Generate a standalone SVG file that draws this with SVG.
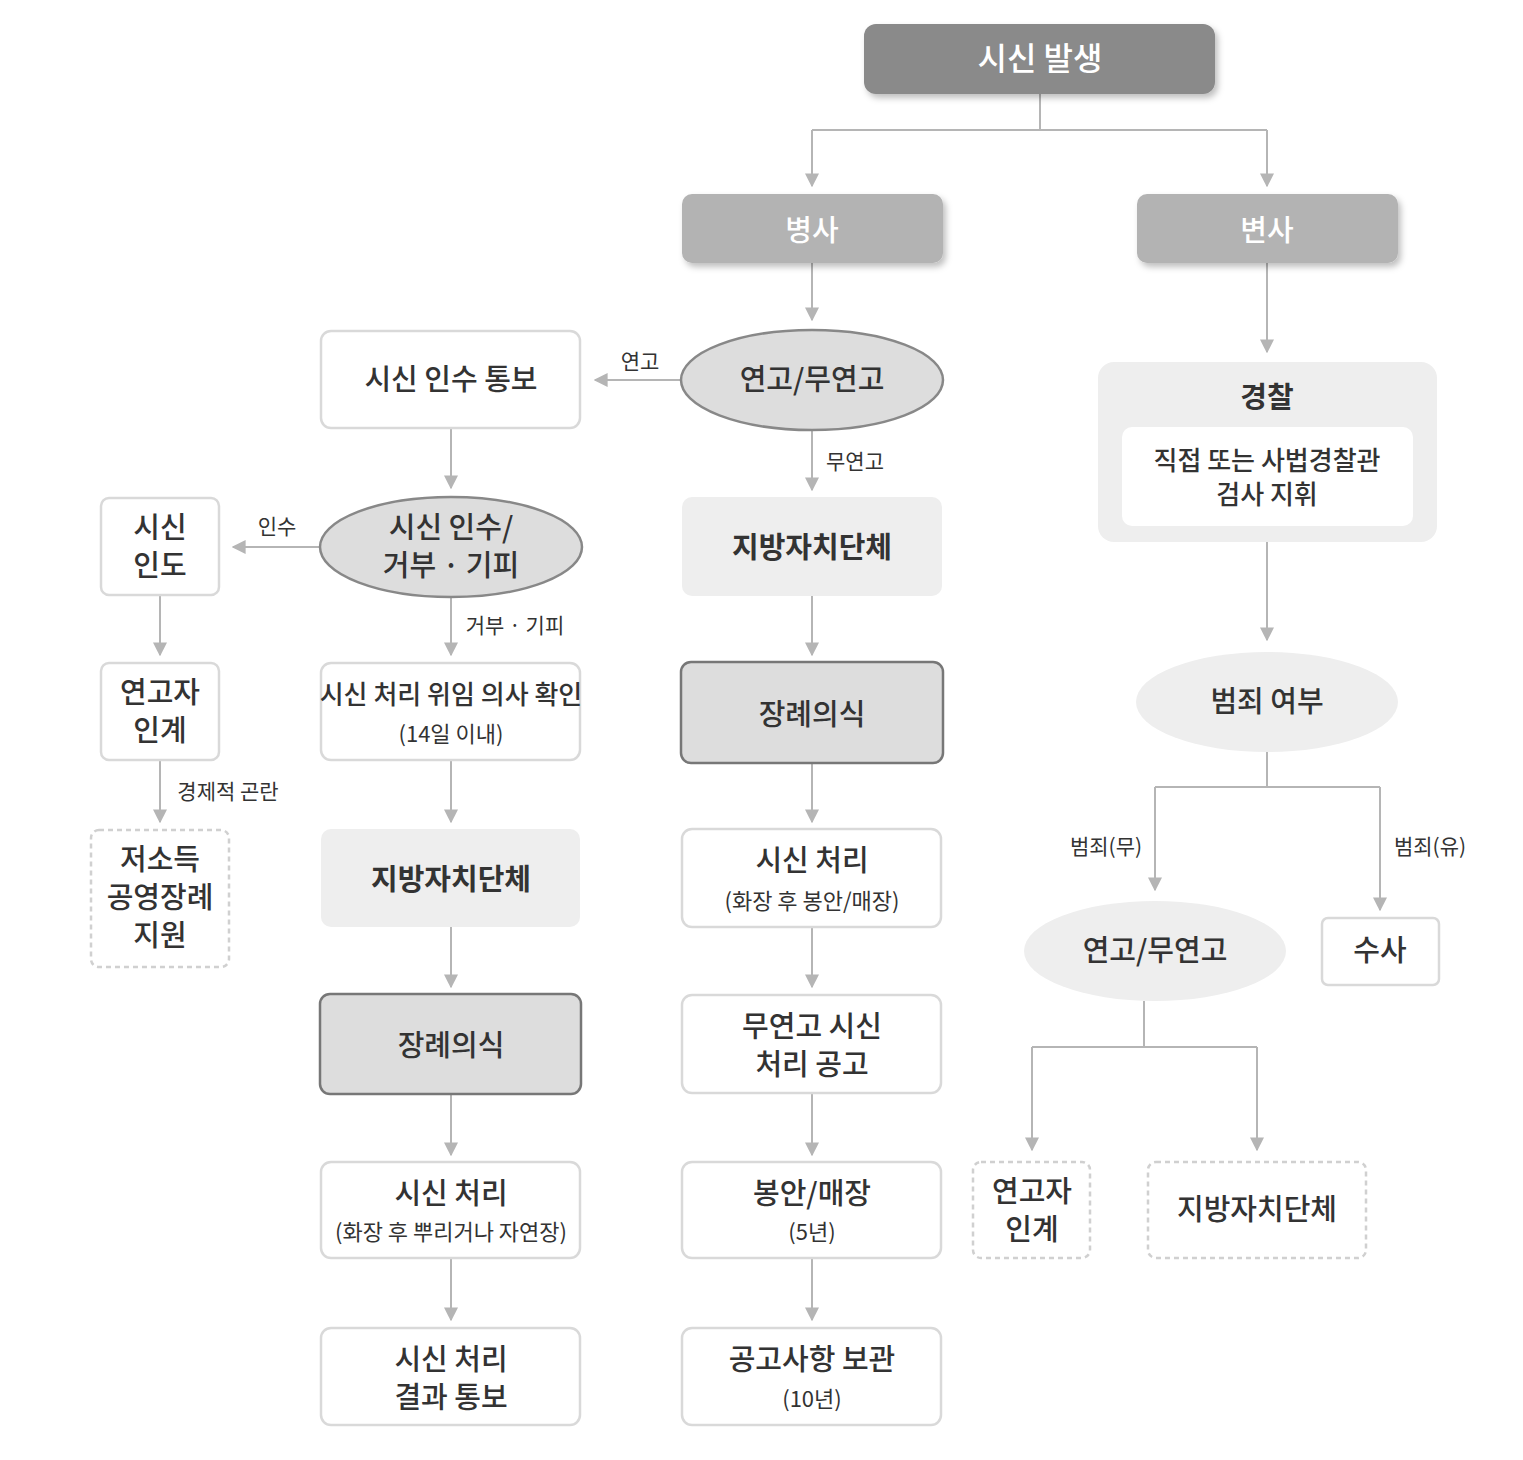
<svg xmlns="http://www.w3.org/2000/svg" width="1523" height="1460" viewBox="0 0 1523 1460">
<style>
text{font-family:"Noto Sans CJK KR","Noto Sans",sans-serif;fill:#333;text-anchor:middle}
.t{font-size:29px;font-weight:500}
.s{font-size:22px}
.l{font-size:21px}
.w{fill:#fff;font-size:32px;font-weight:500}
.box{fill:#fff;stroke:#d9d9d9;stroke-width:2.5}
.lt{fill:#eee}
.dk{fill:#ddd;stroke:#777;stroke-width:2.5}
.ds{fill:#fff;stroke:#d0d0d0;stroke-width:2.5;stroke-dasharray:5 4}
.ell{fill:#ddd;stroke:#888;stroke-width:2.5}
.c path{fill:none;stroke:#b5b5b5;stroke-width:2;marker-end:url(#a)}
.c path.n{marker-end:none}
</style>
<defs>
<marker id="a" viewBox="0 0 10 10" refX="9" refY="5" markerWidth="7" markerHeight="7" markerUnits="userSpaceOnUse" orient="auto"><path d="M0,0L10,5L0,10z" fill="#b5b5b5"/></marker>
<marker id="a2" viewBox="0 0 10 10" refX="9" refY="5" markerWidth="14" markerHeight="14" markerUnits="userSpaceOnUse" orient="auto"><path d="M0,0L10,5L0,10z" fill="#b5b5b5"/></marker>
<filter id="sh" x="-10%" y="-10%" width="130%" height="140%"><feDropShadow dx="3" dy="4" stdDeviation="3" flood-color="#000" flood-opacity="0.25"/></filter>
</defs>
<style>.c path{marker-end:url(#a2)}</style>
<g class="c">
<path class="n" d="M1040,94V130H812"/><path d="M812,130V186"/>
<path class="n" d="M1040,130H1267"/><path d="M1267,130V186"/>
<path d="M812,263V320"/>
<path d="M680,380H595"/>
<path d="M451,428V488"/>
<path d="M320,547H233"/>
<path d="M160,595V655"/>
<path d="M160,760V822"/>
<path d="M451,597V655"/>
<path d="M451,760V822"/>
<path d="M451,927V987"/>
<path d="M451,1094V1155"/>
<path d="M451,1258V1320"/>
<path d="M812,430V490"/>
<path d="M812,596V655"/>
<path d="M812,763V822"/>
<path d="M812,927V987"/>
<path d="M812,1093V1155"/>
<path d="M812,1258V1320"/>
<path d="M1267,263V352"/>
<path d="M1267,542V640"/>
<path class="n" d="M1267,752V787H1155"/><path d="M1155,787V890"/>
<path class="n" d="M1267,787H1380"/><path d="M1380,787V910"/>
<path class="n" d="M1144,1001V1047H1032"/><path d="M1032,1047V1150"/>
<path class="n" d="M1144,1047H1257"/><path d="M1257,1047V1150"/>
</g>
<g class="l">
<text class="l" x="640" y="369">연고</text>
<text class="l" x="277" y="534">인수</text>
<text class="l" x="228" y="799">경제적 곤란</text>
<text class="l" x="515" y="633">거부 · 기피</text>
<text class="l" x="855" y="469">무연고</text>
<text class="l" x="1106" y="854">범죄(무)</text>
<text class="l" x="1430" y="854">범죄(유)</text>
</g>
<g id="n1"><rect x="864" y="24" width="351" height="70" rx="12" fill="#8a8a8a" filter="url(#sh)"/><text class="w" x="1040" y="70">시신 발생</text></g>
<g id="n2"><rect x="682" y="194" width="261" height="69" rx="10" fill="#b3b3b3" filter="url(#sh)"/><text class="w" x="812" y="241" style="font-size:29px">병사</text></g>
<g id="n3"><rect x="1137" y="194" width="261" height="69" rx="10" fill="#b3b3b3" filter="url(#sh)"/><text class="w" x="1267" y="241" style="font-size:29px">변사</text></g>
<g id="n4"><ellipse class="ell" cx="812" cy="380" rx="131" ry="50"/><text class="t" x="812" y="390">연고/무연고</text></g>
<g id="n5"><rect class="box" x="321" y="331" width="259" height="97" rx="10"/><text class="t" x="451" y="390">시신 인수 통보</text></g>
<g id="n6"><ellipse class="ell" cx="451" cy="547" rx="131" ry="50"/><text class="t" x="451" y="538">시신 인수/</text><text class="t" x="451" y="576">거부 · 기피</text></g>
<g id="n7"><rect class="box" x="101" y="498" width="118" height="97" rx="8"/><text class="t" x="160" y="538">시신</text><text class="t" x="160" y="576">인도</text></g>
<g id="n8"><rect class="box" x="101" y="663" width="118" height="97" rx="8"/><text class="t" x="160" y="703">연고자</text><text class="t" x="160" y="741">인계</text></g>
<g id="n9"><rect class="ds" x="91" y="830" width="138" height="137" rx="8"/><text class="t" x="160" y="870">저소득</text><text class="t" x="160" y="908">공영장례</text><text class="t" x="160" y="946">지원</text></g>
<g id="n10"><rect class="box" x="321" y="663" width="259" height="97" rx="10"/><text class="t" x="451" y="704" style="font-size:26px">시신 처리 위임 의사 확인</text><text class="s" x="451" y="742">(14일 이내)</text></g>
<g id="n11"><rect class="lt" x="321" y="829" width="259" height="98" rx="10"/><text class="t" x="451" y="890" style="font-weight:700">지방자치단체</text></g>
<g id="n12"><rect class="dk" x="320" y="994" width="261" height="100" rx="10"/><text class="t" x="451" y="1056">장례의식</text></g>
<g id="n13"><rect class="box" x="321" y="1162" width="259" height="96" rx="10"/><text class="t" x="451" y="1204">시신 처리</text><text class="s" x="451" y="1240">(화장 후 뿌리거나 자연장)</text></g>
<g id="n14"><rect class="box" x="321" y="1328" width="259" height="97" rx="10"/><text class="t" x="451" y="1370">시신 처리</text><text class="t" x="451" y="1408">결과 통보</text></g>
<g id="n15"><rect class="lt" x="682" y="497" width="260" height="99" rx="10"/><text class="t" x="812" y="558" style="font-weight:700">지방자치단체</text></g>
<g id="n16"><rect class="dk" x="681" y="662" width="262" height="101" rx="10"/><text class="t" x="812" y="725">장례의식</text></g>
<g id="n17"><rect class="box" x="682" y="829" width="259" height="98" rx="10"/><text class="t" x="812" y="871">시신 처리</text><text class="s" x="812" y="909">(화장 후 봉안/매장)</text></g>
<g id="n18"><rect class="box" x="682" y="995" width="259" height="98" rx="10"/><text class="t" x="812" y="1037">무연고 시신</text><text class="t" x="812" y="1075">처리 공고</text></g>
<g id="n19"><rect class="box" x="682" y="1162" width="259" height="96" rx="10"/><text class="t" x="812" y="1204">봉안/매장</text><text class="s" x="812" y="1240">(5년)</text></g>
<g id="n20"><rect class="box" x="682" y="1328" width="259" height="97" rx="10"/><text class="t" x="812" y="1370">공고사항 보관</text><text class="s" x="812" y="1407">(10년)</text></g>
<g id="n21"><rect class="lt" x="1098" y="362" width="339" height="180" rx="16"/><text class="t" x="1267" y="408" style="font-weight:700">경찰</text><rect x="1122" y="427" width="291" height="99" rx="10" fill="#fff"/><text class="t" x="1267" y="470" style="font-size:26px">직접 또는 사법경찰관</text><text class="t" x="1267" y="504" style="font-size:26px">검사 지휘</text></g>
<g id="n22"><ellipse cx="1267" cy="702" rx="131" ry="50" fill="#eee"/><text class="t" x="1267" y="712">범죄 여부</text></g>
<g id="n23"><ellipse cx="1155" cy="951" rx="131" ry="50" fill="#eee"/><text class="t" x="1155" y="961">연고/무연고</text></g>
<g id="n24"><rect class="box" x="1322" y="918" width="117" height="67" rx="6"/><text class="t" x="1380" y="961">수사</text></g>
<g id="n25"><rect class="ds" x="973" y="1162" width="117" height="96" rx="8"/><text class="t" x="1032" y="1202">연고자</text><text class="t" x="1032" y="1240">인계</text></g>
<g id="n26"><rect class="ds" x="1148" y="1162" width="218" height="96" rx="8"/><text class="t" x="1257" y="1220">지방자치단체</text></g>
</svg>
